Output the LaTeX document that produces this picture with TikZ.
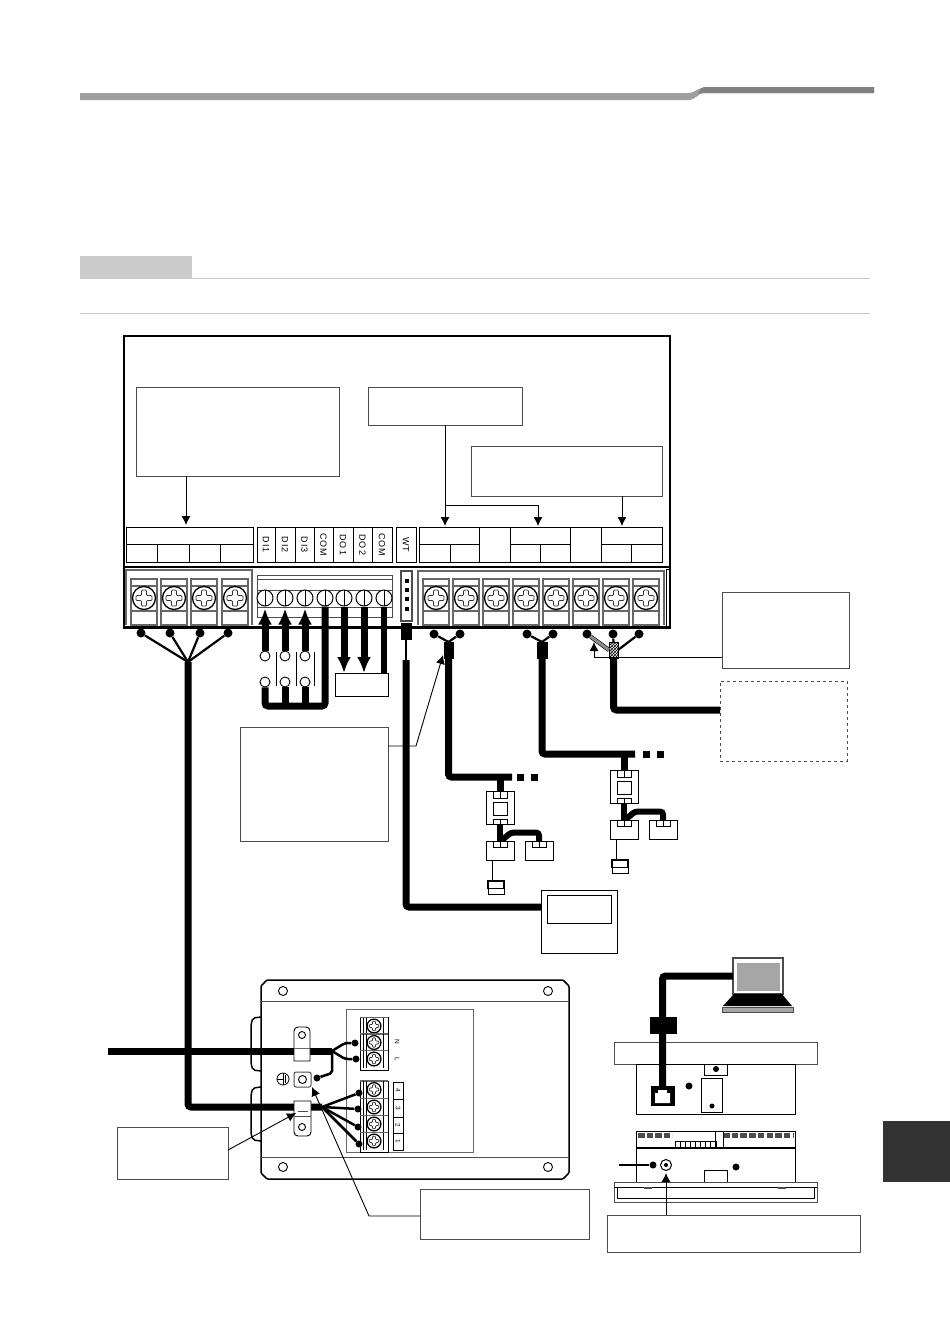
\documentclass[tikz,border=0pt]{standalone}
\usepackage{fontspec}
\setmainfont{Liberation Sans}
\usetikzlibrary{arrows.meta,patterns}

\tikzset{
  bx/.style={rectangle, draw, inner sep=0pt, outer sep=0pt, anchor=north west, line width=.9pt},
  sz/.style 2 args={minimum width=#1pt, minimum height=#2pt},
  notebox/.style={bx, draw=black!70, line width=1pt},
  termcap/.style={inner sep=0pt, font=\fontsize{9}{10}\selectfont\addfontfeature{LetterSpace=12}, rotate=-90},
  tinycap/.style={inner sep=0pt, font=\fontsize{6.5}{7}\selectfont, rotate=-90},
  tdot/.style={circle, fill=black, inner sep=0pt, minimum size=9pt},
  sdot/.style={circle, fill=black, inner sep=0pt, minimum size=7pt},
  ring/.style={circle, draw, fill=white, inner sep=0pt, minimum size=10pt, line width=.9pt},
  halfring/.style={circle, draw, inner sep=0pt, minimum size=16pt, line width=1pt, path picture={\draw[line width=1pt] (path picture bounding box.north) -- (path picture bounding box.south);}},
  trail/.style={rectangle, fill=black, inner sep=0pt, minimum size=7pt},
  wire/.style={line width=7pt, rounded corners=3pt},
  lead/.style={line width=2.2pt},
  fanwire/.style={line width=2.5pt},
  leader/.style={line width=.9pt, -{Latex[length=9pt,width=9pt]}},
  bigarrow/.style={line width=7pt, -{Latex[length=16pt,width=14pt]}},
  cellline/.style={draw=black!60, line width=1.2pt},
  pics/screwhead/.style={code={
    \draw[line width=1.3pt, fill=white] (0,0) circle (11.5pt);
    \draw[black!80, line width=.7pt, rounded corners=1pt] (-2.5,-8) -- (2.5,-8) -- (2.5,-2.5) -- (8,-2.5) -- (8,2.5) -- (2.5,2.5)
      -- (2.5,8) -- (-2.5,8) -- (-2.5,2.5) -- (-8,2.5) -- (-8,-2.5) -- (-2.5,-2.5) -- cycle;
  }},
  pics/screwcell/.style={code={
    \draw[cellline] (-13,-19) rectangle (13,27);
    \draw[cellline] (-13,-12) -- (13,-12);
    \draw[cellline] (-13,13) -- (13,13);
    \pic {screwhead};
  }},
  pics/screwlow/.style={code={
    \draw[cellline] (-14,-8.5) -- (14,-8.5);
    \draw[line width=.7pt] (-11,-8.5) -- (-11,8.5);
    \draw[line width=.7pt] (-8,-8.5) -- (-8,8.5);
    \draw[line width=.7pt] (9,-8.5) -- (9,8.5);
    \pic[scale=.6] {screwhead};
  }},
  pics/adapter/.style={code={
    \node[bx, sz={28}{33}] (-body) at (-14,-16.5) {};
    \node[bx, sz={14}{13}] (-pane) at (-7,-5.5) {};
    \node[bx, sz={28}{19}] (-boxa) at (-14,33.5) {};
    \node[bx, sz={28}{19}] (-boxb) at (25,33.5) {};
    \node[bx, sz={14}{7}, fill=white] (-ctop) at (-7,-16.5) {};
    \node[bx, sz={14}{5}, fill=white] (-cbot) at (-7,11.5) {};
    \draw[wire, rounded corners=0pt, line width=6.5pt] (-cbot.south) -- (0,33.5);
    \draw[wire, rounded corners=3pt, line width=6pt] (1,33.5) -- (11,25) -- (39,25) -- (39,33.5);
    \node[bx, sz={14}{6}, fill=white] (-cona) at (-7,33.5) {};
    \node[bx, sz={14}{6}, fill=white] (-conb) at (32,33.5) {};
    \draw[line width=.8pt] (0,-16.5) -- (0,-9.5);
    \draw[line width=.8pt] (0,11.5) -- (0,16.5);
    \draw[line width=.8pt] (0,33.5) -- (0,39.5);
    \draw[line width=.8pt] (39,33.5) -- (39,39.5);
    \node[bx, sz={16}{7.5}, line width=1.6pt] (-sensor) at (-12,73.5) {};
    \node[bx, sz={16}{5.5}] (-senlow) at (-12,81) {};
    \draw[line width=.9pt] (-8,52.5) -- (-8,73.5);
  }}
}

\begin{document}
\begin{tikzpicture}[x=1pt,y=-1pt]
\useasboundingbox (0,0) rectangle (950,1342);

% page furniture
\fill[black!38] (80,93) -- (688,93) .. controls (696,93) and (697,87) .. (708,87) -- (874,87) -- (874,93) -- (704,93) .. controls (698,93) and (696,100) .. (688,100) -- (80,100) -- cycle;
\fill[black!50] (704,87) -- (874,87) -- (874,93) -- (698,93) .. controls (700,90) and (701,88) .. (704,87) -- cycle;
\node[bx, draw=none, fill=black!20, sz={112}{22}] (tabTop) at (80,256) {};
\draw[black!22, line width=1pt] (80,278) -- (870,278);
\draw[black!22, line width=1pt] (80,313) -- (870,313);
\node[bx, draw=none, fill=black!80, sz={67}{61}] (tabSide) at (883,1121) {};

% main unit
\node[bx, line width=1.5pt, sz={546}{292}] (unit) at (124,336) {};
\draw[line width=2pt] (124,567) -- (670,567);
\node[bx, fill=white, sz={3}{58}, line width=1pt] (latch) at (666,569) {};

\begin{scope}
  \node[notebox, sz={203}{89}] (noteA) at (136,387) {};
  \node[notebox, sz={154}{38}] (noteB) at (368,387) {};
  \node[notebox, sz={191}{50}] (noteC) at (471,446) {};
\end{scope}

% terminal captions, left
\begin{scope}
  \node[bx, sz={127}{17.5}] (capA) at (126,527) {};
  \node[bx, sz={31}{18}] (capA1) at (126,544.5) {};
  \node[bx, sz={32}{18}] (capA2) at (157,544.5) {};
  \node[bx, sz={31}{18}] (capA3) at (189,544.5) {};
  \node[bx, sz={33}{18}] (capA4) at (220,544.5) {};
\end{scope}

% terminal captions, DI / DO
\begin{scope}
  \node[bx, sz={18}{35.5}] (capDI1) at (257,527) {};
  \node[bx, sz={20}{35.5}] (capDI2) at (275,527) {};
  \node[bx, sz={19}{35.5}] (capDI3) at (295,527) {};
  \node[bx, sz={19}{35.5}] (capCOMa) at (314,527) {};
  \node[bx, sz={20}{35.5}] (capDO1) at (333,527) {};
  \node[bx, sz={19}{35.5}] (capDO2) at (353,527) {};
  \node[bx, sz={20}{35.5}] (capCOMb) at (372,527) {};
  \node[bx, sz={20}{35.5}] (capWT) at (396,527) {};
  \node[termcap] (txDI1) at (capDI1.center) {DI1};
  \node[termcap] (txDI2) at (capDI2.center) {DI2};
  \node[termcap] (txDI3) at (capDI3.center) {DI3};
  \node[termcap] (txCOMa) at (capCOMa.center) {COM};
  \node[termcap] (txDO1) at (capDO1.center) {DO1};
  \node[termcap] (txDO2) at (capDO2.center) {DO2};
  \node[termcap] (txCOMb) at (capCOMb.center) {COM};
  \node[termcap] (txWT) at (capWT.center) {WT};
\end{scope}

% terminal captions, right
\begin{scope}
  \node[bx, sz={60}{17.5}] (capB) at (419,527) {};
  \node[bx, sz={31}{18}] (capB1) at (419,544.5) {};
  \node[bx, sz={29}{18}] (capB2) at (450,544.5) {};
  \node[bx, sz={31}{35.5}] (capB0) at (479,527) {};
  \node[bx, sz={60}{17.5}] (capC) at (510,527) {};
  \node[bx, sz={30}{18}] (capC1) at (510,544.5) {};
  \node[bx, sz={30}{18}] (capC2) at (540,544.5) {};
  \node[bx, sz={31}{35.5}] (capC0) at (570,527) {};
  \node[bx, sz={61}{17.5}] (capD) at (601,527) {};
  \node[bx, sz={30}{18}] (capD1) at (601,544.5) {};
  \node[bx, sz={31}{18}] (capD2) at (631,544.5) {};
\end{scope}

% note arrows
\coordinate (tipA) at (186,525);
\coordinate (tapA) at (186,476);
\coordinate (tapB) at (445,425);
\coordinate (tipB) at (445,526);
\coordinate (knB) at (445,505);
\coordinate (knC) at (538,505);
\coordinate (tipC) at (538,526);
\coordinate (tapD) at (622,496);
\coordinate (tipD) at (622,526);
\draw[leader] (tapA) -- (tipA);
\draw[leader] (tapB) -- (tipB);
\draw[leader] (knB) -- (knC) -- (tipC);
\draw[leader] (tapD) -- (tipD);

% screw terminals
\draw[cellline] (126,625) -- (126,570) -- (252,570) -- (252,625);
\draw[cellline] (418,625) -- (418,571) -- (664,571) -- (664,625);
\pic at (144,598) {screwcell};
\pic at (174,598) {screwcell};
\pic at (204,598) {screwcell};
\pic at (235,598) {screwcell};
\pic at (436,598) {screwcell};
\pic at (466,598) {screwcell};
\pic at (496,598) {screwcell};
\pic at (526,598) {screwcell};
\pic at (556,598) {screwcell};
\pic at (586,598) {screwcell};
\pic at (616,598) {screwcell};
\pic at (646,598) {screwcell};

% DI / DO block
\node[bx, sz={135}{42}, draw=black!70] (blockD) at (257,575) {};
\draw[draw=black!70, line width=.9pt] (257,579) -- (392,579);
\draw[draw=black!70, line width=.9pt] (257,590) -- (392,590);
\draw[draw=black!70, line width=.9pt] (257,607) -- (392,607);
\begin{scope}[every node/.style={halfring, fill=white}]
  \node (tDI1) at (265,598) {};
  \node (tDI2) at (285,598) {};
  \node (tDI3) at (305,598) {};
  \node (tCOMa) at (325,598) {};
  \node (tDO1) at (344,598) {};
  \node (tDO2) at (364,598) {};
  \node (tCOMb) at (384,598) {};
\end{scope}

% WT socket
\node[bx, sz={11}{50}, draw=black!70, line width=1.2pt] (socket) at (401,571) {};
\node[rectangle, fill=black, inner sep=0pt, minimum size=4pt] (pinA) at (406.5,581) {};
\node[rectangle, fill=black, inner sep=0pt, minimum size=4pt] (pinB) at (406.5,590) {};
\node[rectangle, fill=black, inner sep=0pt, minimum size=4pt] (pinC) at (406.5,599) {};
\node[rectangle, fill=black, inner sep=0pt, minimum size=4pt] (pinD) at (406.5,609) {};

% frame of the unit stays over the cells
\draw[line width=2pt] (124,627) -- (670,627);

% power wires, left terminals
\node[tdot] (dA1) at (141,633) {};
\node[tdot] (dA2) at (170,633) {};
\node[tdot] (dA3) at (200,633) {};
\node[tdot] (dA4) at (228,633) {};
\coordinate (fanA) at (188,662);
\draw[lead] (dA1) -- (fanA);
\draw[lead] (dA2) -- (fanA);
\draw[lead] (dA3) -- (fanA);
\draw[lead] (dA4) -- (fanA);

% contacts
\node[ring] (swA1) at (265,656) {};
\node[ring] (swB1) at (285,656) {};
\node[ring] (swC1) at (305,656) {};
\node[ring] (swA2) at (265,682) {};
\node[ring] (swB2) at (285,682) {};
\node[ring] (swC2) at (305,682) {};
\draw[line width=.8pt] (276,652) -- (276,686);
\draw[line width=.8pt] (296,652) -- (296,686);
\draw[line width=.8pt] (314,652) -- (314,686);
\coordinate (busA) at (325,706);
\draw[wire] (swA2.south) |- (busA) -- (tCOMa.south);
\draw[wire] (swB2.south) -- (swB2.south |- busA);
\draw[wire] (swC2.south) -- (swC2.south |- busA);
\draw[bigarrow, shorten >=2pt] (swA1.north) -- (tDI1.south);
\draw[bigarrow, shorten >=2pt] (swB1.north) -- (tDI2.south);
\draw[bigarrow, shorten >=2pt] (swC1.north) -- (tDI3.south);

\node[bx, sz={53}{23}] (loadBox) at (335,673) {};
\draw[bigarrow] (tDO1.south) -- (loadBox.north -| tDO1);
\draw[bigarrow] (tDO2.south) -- (loadBox.north -| tDO2);
\draw[line width=6pt] (tCOMb.south) -- (loadBox.north -| tCOMb);

% remote controller wire
\node[bx, fill=black, sz={10}{16}] (plugWT) at (401,623) {};
\coordinate (wtJoin) at (406,660);
\node[bx, sz={76}{63}] (remote) at (541,890) {};
\node[bx, sz={64}{28}] (remotePane) at (547,895) {};
\draw[line width=2pt] (plugWT.south) -- (wtJoin);
\coordinate (remoteIn) at (541,907);
\draw[wire] (wtJoin) |- (remoteIn);

% bus A
\node[tdot] (dB1) at (434,634) {};
\node[tdot] (dB2) at (460,634) {};
\node[bx, fill=black, sz={9}{16}] (sleeveB) at (444,642) {};
\draw[lead] (dB1) -- (sleeveB.north);
\draw[lead] (dB2) -- (sleeveB.north);
\coordinate (endB) at (512,777);
\node[trail] (trB1) at (520.5,777) {};
\node[trail] (trB2) at (534.5,777) {};
\pic (adA) at (500,807.5) {adapter};
\draw[wire] (sleeveB.south) |- (endB);
\draw[wire, rounded corners=0pt] (adA-ctop.north) -- (adA-ctop.north |- endB);

% bus B
\node[tdot] (dC1) at (527,634) {};
\node[tdot] (dC2) at (553,634) {};
\node[bx, fill=black, sz={10}{16}] (sleeveC) at (537,642) {};
\draw[lead] (dC1) -- (sleeveC.north);
\draw[lead] (dC2) -- (sleeveC.north);
\coordinate (endC) at (635,754);
\node[trail] (trC1) at (646,754) {};
\node[trail] (trC2) at (660.5,754) {};
\pic (adB) at (624,786.5) {adapter};
\draw[wire] (sleeveC.south) |- (endC);
\draw[wire, rounded corners=0pt] (adB-ctop.north) -- (adB-ctop.north |- endC);

% shielded wire
\node[notebox, sz={127}{76}] (noteD) at (722,592) {};
\node[notebox, dashed, sz={127}{80}] (noteE) at (720,681) {};
\node[tdot] (dD1) at (587,634) {};
\node[tdot] (dD2) at (613,634) {};
\node[tdot] (dD3) at (639,634) {};
\node[bx, sz={9}{16}, pattern=crosshatch] (sleeveD) at (609,642) {};
\draw[line width=.6pt, double=black!45, double distance=3pt] (dD1) -- (sleeveD.west);
\draw[lead] (dD2) -- (sleeveD.north);
\draw[lead] (dD3) -- (sleeveD.east);
\coordinate (shieldEnd) at (720,710);
\draw[wire] (sleeveD.south) |- (shieldEnd);
\coordinate (tapF) at (722,657);
\coordinate (knF) at (594,657);
\coordinate (tipF) at (594,642);
\draw[leader] (tapF) -- (knF) -- (tipF);

% note with cable arrow
\node[notebox, sz={148}{114}] (noteF) at (240,727) {};
\coordinate (tapG) at (388,746);
\coordinate (knG) at (416,746);
\coordinate (tipG) at (443,655);
\draw[leader] (tapG) -- (knG) -- (tipG);

% lower box
\draw[line width=1.5pt, rounded corners=2pt] (261,1017) -- (253,1018) -- (251,1024) -- (251,1064) -- (253,1070) -- (261,1071);
\draw[line width=1.5pt, rounded corners=2pt] (261,1087) -- (253,1088) -- (251,1094) -- (251,1134) -- (253,1140) -- (261,1141);
\draw[line width=1.5pt, fill=white, rounded corners=1pt] (267,980) -- (563,980) -- (569,986) -- (569,1173) -- (563,1179) -- (267,1179) -- (261,1173) -- (261,986) -- cycle;
\draw[draw=black!70, line width=1pt] (261,1001) -- (569,1001);
\draw[draw=black!70, line width=1pt] (261,1157) -- (569,1157);
\node[ring, minimum size=9pt] (holeA) at (283,991) {};
\node[ring, minimum size=9pt] (holeB) at (548,991) {};
\node[ring, minimum size=9pt] (holeC) at (283,1167) {};
\node[ring, minimum size=9pt] (holeD) at (548,1167) {};
\node[notebox, sz={127}{143}, draw=black!60] (panel) at (346,1009) {};

% lower terminals
\draw[line width=1pt] (360,1017) rectangle (388,1070);
\draw[line width=1pt] (360,1081) rectangle (388,1152);
\pic at (374,1026) {screwlow};
\pic at (374,1042.5) {screwlow};
\pic at (374,1059) {screwlow};
\pic at (374,1089.5) {screwlow};
\pic at (374,1107) {screwlow};
\pic at (374,1124) {screwlow};
\pic at (374,1141) {screwlow};
\node[tinycap] (txN) at (397,1042) {N};
\node[tinycap] (txL) at (397,1059) {L};
\node[bx, sz={10}{17}] (numA) at (393,1082) {};
\node[bx, sz={10}{18}] (numB) at (393,1099) {};
\node[bx, sz={10}{16}] (numC) at (393,1117) {};
\node[bx, sz={10}{17}] (numD) at (393,1133) {};
\node[tinycap] (txA) at (numA.center) {4};
\node[tinycap] (txB) at (numB.center) {3};
\node[tinycap] (txC) at (numC.center) {2};
\node[tinycap] (txD) at (numD.center) {1};

% mains wire and clamp
\coordinate (mainsIn) at (108,1051);
\coordinate (mainsFan) at (332,1051);
\node[sdot] (dN) at (355,1043) {};
\node[sdot] (dL) at (356,1059) {};
\node[sdot] (dG) at (317,1078) {};
\draw[line width=7pt] (mainsIn) -- (mainsFan);
\draw[fanwire, rounded corners=3pt] (mainsFan) -- (345,1043) -- (dN);
\draw[fanwire, rounded corners=3pt] (mainsFan) -- (345,1059) -- (dL);
\draw[fanwire, rounded corners=2pt] (mainsFan) -- (332,1073) -- (dG);
\draw[line width=.9pt, fill=white] (294,1061) [rounded corners=4pt] -- (294,1027) -- (310,1027) [sharp corners] -- (310,1061) -- cycle;
\node[ring, minimum size=7pt] (clampHoleA) at (302,1035) {};
\draw[black!60, line width=.8pt] (294,1048) -- (310,1048);
% earth
\node[circle, draw, line width=.8pt, inner sep=0pt, minimum size=12pt] (earthMark) at (283,1079) {};
\draw[line width=.8pt] (earthMark.west) -- (283,1079);
\draw[line width=.8pt] (283,1073) -- (283,1085);
\draw[line width=.7pt] (285,1075) -- (285,1083);
\node[rectangle, rounded corners=2pt, draw=black!70, line width=1pt, inner sep=0pt, minimum width=17pt, minimum height=15pt] (earthLug) at (302.5,1079.5) {};
\node[ring, minimum size=8pt] (earthHole) at (302.5,1079.5) {};

% comms wire and clamp
\coordinate (commFan) at (322,1107);
\node[sdot] (d4) at (359,1093) {};
\node[sdot] (d3) at (358,1109) {};
\node[sdot] (d2) at (358,1127) {};
\node[sdot] (d1) at (359,1144) {};
\draw[wire] (fanA) |- (commFan);
\draw[fanwire] (commFan) -- (d4);
\draw[fanwire] (commFan) -- (d3);
\draw[fanwire] (commFan) -- (d2);
\draw[fanwire] (commFan) -- (d1);
\draw[line width=.9pt, fill=white] (311,1101) -- (294,1101) [rounded corners=4pt] -- (294,1136) -- (311,1136) [sharp corners] -- cycle;
\draw[black!70, line width=.8pt] (294,1116) -- (311,1116);
\draw[black!70, line width=.8pt] (298,1111) -- (308,1111);
\node[ring, minimum size=7pt] (clampHoleB) at (302,1127) {};

% lower notes
\node[notebox, sz={111}{52}] (noteG) at (117,1127) {};
\node[notebox, sz={169}{50}] (noteH) at (420,1189) {};
\coordinate (tapH) at (228,1150);
\coordinate (tipH) at (296,1113);
\draw[leader] (tapH) -- (tipH);
\coordinate (tapJ) at (420,1216);
\coordinate (knJ) at (369,1216);
\coordinate (tipJ) at (312,1087);
\draw[leader] (tapJ) -- (knJ) -- (tipJ);

% laptop and rear view
\node[bx, sz={50}{36}, line width=1.5pt, draw=black!70] (lapScreen) at (733,958) {};
\node[bx, draw=none, fill=black!35, sz={43}{28}] (lapPane) at (737,963) {};
\fill[black] (734,994) -- (782,994) -- (792,1006) -- (723,1006) -- cycle;
\node[bx, fill=black!35, draw=black!70, sz={71}{5}] (lapBase) at (722,1007) {};
\node[bx, draw=black!70, sz={203}{22}] (panelA) at (614,1042) {};
\node[bx, sz={159}{50}] (bodyA) at (636,1064) {};
\node[bx, sz={23}{11}] (bracketA) at (704,1064) {};
\node[sdot, minimum size=6pt] (boltA) at (716,1069) {};
\node[sdot, minimum size=7pt] (boltB) at (689,1086) {};
\node[bx, sz={21}{34}] (doorA) at (701,1078) {};
\node[sdot, minimum size=5pt] (boltC) at (712,1106) {};
\node[bx, fill=black, sz={23}{19}] (rjPort) at (651,1086) {};
\draw[wire] (lapScreen.west) -| (rjPort.north);
\node[bx, fill=black, sz={26}{16}] (ferrite) at (650,1017) {};
\fill[white] (655,1093) -- (658,1093) -- (658,1090) -- (667,1090) -- (667,1093) -- (670,1093) -- (670,1103) -- (655,1103) -- cycle;

% lower view
\node[bx, sz={159}{51}] (bodyB) at (636,1131) {};
\draw[line width=2pt] (636,1148) -- (795,1148);
\draw[black!70, line width=5pt, dash pattern=on 6.5pt off 2pt] (638,1135) -- (672,1135);
\draw[black!70, line width=5pt, dash pattern=on 6.5pt off 2.2pt] (723,1135) -- (793,1135);
\node[bx, sz={41}{6}] (pinRow) at (675,1141) {};
\draw[line width=6pt, dash pattern=on .8pt off 4.2pt] (675,1144) -- (716,1144);
\draw[line width=.9pt] (715,1131) -- (715,1148);
\draw[line width=.9pt] (723,1131) -- (723,1148);
\node[sdot] (dE) at (653,1165) {};
\coordinate (earthEnd) at (619,1165);
\draw[lead] (earthEnd) -- (dE);
\node[circle, draw, line width=1pt, inner sep=0pt, minimum size=11pt] (boltD) at (666,1165) {};
\node[sdot, minimum size=4pt] (boltE) at (666,1165) {};
\node[sdot, minimum size=7pt] (boltF) at (736,1167) {};
\node[bx, sz={23}{12}] (tabB) at (704,1170) {};
\node[bx, draw=black!70, sz={203}{20}] (panelB) at (614,1182) {};
\draw[line width=1pt] (614,1187) -- (817,1187);
\draw[line width=.8pt] (617,1187) -- (617,1198) -- (814,1198) -- (814,1187);
\draw[black!70, line width=1.5pt] (644,1188) -- (652,1188);
\draw[black!70, line width=1.5pt] (778,1188) -- (786,1188);
\node[notebox, sz={253}{37}] (noteJ) at (607,1215) {};
\coordinate (tipK) at (666,1173);
\draw[leader] (noteJ.north -| tipK) -- (tipK);

\end{tikzpicture}
\end{document}
